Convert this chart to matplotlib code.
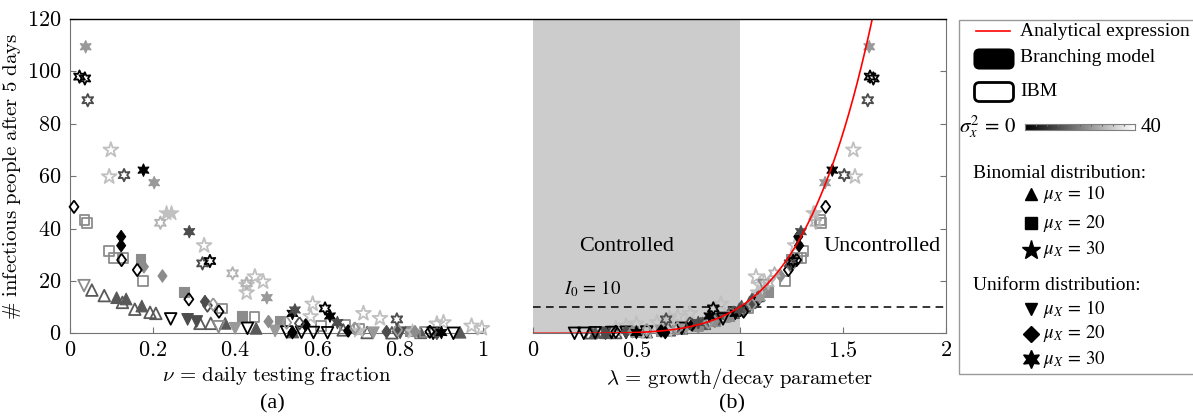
import numpy as np
import matplotlib
matplotlib.use('Agg')
import matplotlib.pyplot as plt
from matplotlib.patches import FancyBboxPatch, Rectangle

plt.rcParams['font.family'] = ['Liberation Serif', 'DejaVu Serif']
plt.rcParams['mathtext.fontset'] = 'cm'

I0 = 10
S2_MAX = 40

# columns: nu (panel a), lambda (panel b), infectious after 5 days, sigma_x^2, IBM flag (1 = hollow)
# binomial, mu_x = 10
tri_nu  = [0.053, 0.083, 0.113, 0.136, 0.127, 0.157, 0.174, 0.194, 0.208, 0.315, 0.341, 0.376, 0.451, 0.662, 0.945, 0.54, 0.72, 0.85, 0.78]
tri_lam = [1.12, 1.09, 1.07, 1.06, 1.05, 1.00, 1.01, 0.97, 0.95, 0.83, 0.82, 0.81, 0.72, 0.66, 0.30, 0.55, 0.40, 0.35, 0.28]
tri_y   = [16.5, 14.4, 13.6, 13.1, 11.8, 9.2, 10.4, 8.0, 7.6, 3.8, 3.8, 3.8, 1.9, 1.3, 0.4, 0.5, 0.3, 0.2, 0.2]
tri_s2  = [14] * 19
tri_ibm = [1, 1, 0, 0, 1, 1, 0, 1, 1, 1, 1, 0, 0, 1, 0, 0, 1, 0, 1]

# binomial, mu_x = 20
sq_nu  = [0.035, 0.042, 0.095, 0.107, 0.129, 0.171, 0.176, 0.277, 0.368, 0.416, 0.447, 0.509, 0.608, 0.666, 0.824, 0.70, 0.86]
sq_lam = [1.39, 1.395, 1.31, 1.30, 1.28, 1.25, 1.22, 1.14, 1.04, 0.95, 0.93, 0.88, 0.80, 0.79, 0.62, 0.70, 0.50]
sq_y   = [43.2, 42.0, 31.5, 28.9, 28.6, 28.5, 20.0, 15.8, 9.5, 6.6, 6.1, 4.8, 2.8, 3.2, 0.9, 1.5, 0.4]
sq_s2  = [22] * 17
sq_ibm = [1, 1, 1, 1, 1, 0, 1, 0, 1, 0, 1, 0, 1, 1, 0, 1, 1]

# binomial, mu_x = 30
pent_nu  = [0.099, 0.095, 0.234, 0.246, 0.325, 0.428, 0.428, 0.448, 0.468, 0.588, 0.583, 0.711, 0.751, 0.889, 0.905, 0.973, 0.998, 0.70, 0.83]
pent_lam = [1.552, 1.56, 1.358, 1.365, 1.27, 1.10, 1.09, 1.08, 1.12, 0.91, 0.70, 0.76, 0.66, 0.50, 0.60, 0.45, 0.40, 0.65, 0.55]
pent_y   = [70.0, 59.8, 45.8, 45.8, 33.5, 18.4, 15.5, 21.6, 19.7, 11.2, 6.4, 7.6, 5.7, 3.6, 4.1, 2.8, 1.9, 1.0, 0.6]
pent_s2  = [30] * 19
pent_ibm = [1, 1, 0, 0, 1, 1, 1, 1, 1, 1, 1, 1, 1, 1, 1, 1, 1, 0, 0]

# uniform, mu_x = 10
dtri_nu  = [0.034, 0.244, 0.285, 0.307, 0.36, 0.40, 0.43, 0.497, 0.525, 0.561, 0.59, 0.624, 0.735, 0.80, 0.929, 0.88]
dtri_lam = [1.12, 0.92, 0.90, 0.88, 0.80, 0.74, 0.72, 0.62, 0.55, 0.45, 0.38, 0.30, 0.45, 0.35, 0.20, 0.245]
dtri_y   = [18.2, 5.5, 5.3, 4.5, 2.5, 1.9, 1.9, 0.9, 0.5, 0.4, 0.3, 0.2, 0.2, 0.2, 0.0, 0.0]
dtri_s2  = [22, 0, 12, 12, 22, 24, 0, 24, 0, 0, 0, 0, 24, 12, 0, 0]
dtri_ibm = [1, 1, 0, 0, 1, 0, 1, 0, 1, 1, 1, 1, 0, 0, 1, 1]

# uniform, mu_x = 20
dia_nu  = [0.0097, 0.124, 0.124, 0.125, 0.163, 0.179, 0.224, 0.288, 0.327, 0.333, 0.347, 0.361, 0.481, 0.525, 0.539,
           0.556, 0.571, 0.674, 0.69, 0.767, 0.792, 0.794, 0.836, 0.872, 0.889]
dia_lam = [1.418, 1.285, 1.289, 1.277, 1.237, 1.25, 1.20, 1.091, 1.06, 1.05, 1.06, 1.02, 0.88, 0.85, 0.64,
           0.76, 0.77, 0.62, 0.70, 0.45, 0.50, 0.55, 0.48, 0.40, 0.35]
dia_y   = [48.3, 36.9, 33.5, 28.0, 24.2, 25.4, 21.9, 13.0, 12.1, 10.6, 11.0, 8.3, 4.5, 4.1, 0.3,
           3.8, 3.2, 0.9, 1.9, 0.6, 0.6, 1.3, 0.6, 0.6, 0.0]
dia_s2  = [0, 0, 0, 0, 0, 22, 22, 0, 12, 12, 24, 0, 22, 24, 0, 12, 0, 0, 24, 12, 12, 24, 22, 0, 12]
dia_ibm = [1, 0, 0, 1, 1, 0, 0, 1, 0, 1, 1, 1, 0, 1, 0, 1, 0, 0, 1, 0, 0, 1, 0, 1, 0]

# uniform, mu_x = 30
hex_nu  = [0.038, 0.023, 0.036, 0.043, 0.131, 0.178, 0.204, 0.219, 0.289, 0.321, 0.339, 0.394, 0.428, 0.477,
           0.539, 0.545, 0.618, 0.630, 0.648, 0.792, 0.90]
hex_lam = [1.629, 1.633, 1.649, 1.622, 1.508, 1.450, 1.415, 1.37, 1.298, 1.245, 1.26, 1.17, 1.14, 1.10,
           0.98, 1.00, 0.873, 0.854, 0.80, 0.644, 0.50]
hex_y   = [109.4, 98.0, 97.3, 89.0, 60.4, 62.3, 57.5, 42.2, 38.8, 26.7, 27.6, 22.9, 19.1, 13.6,
           7.6, 8.9, 9.5, 6.6, 4.1, 5.3, 0.3]
hex_s2  = [24, 0, 0, 12, 12, 0, 24, 28, 12, 12, 0, 28, 28, 24, 0, 12, 0, 0, 12, 12, 0]
hex_ibm = [0, 1, 1, 1, 1, 0, 0, 1, 0, 1, 1, 1, 1, 0, 0, 0, 1, 0, 0, 1, 0]

diamond = [(0, 1), (0.72, 0), (0, -1), (-0.72, 0), (0, 1)]
groups = [
    (tri_nu, tri_lam, tri_y, tri_s2, tri_ibm, '^', 70),
    (sq_nu, sq_lam, sq_y, sq_s2, sq_ibm, 's', 50),
    (pent_nu, pent_lam, pent_y, pent_s2, pent_ibm, '*', 125),
    (dtri_nu, dtri_lam, dtri_y, dtri_s2, dtri_ibm, 'v', 70),
    (dia_nu, dia_lam, dia_y, dia_s2, dia_ibm, diamond, 80),
    (hex_nu, hex_lam, hex_y, hex_s2, hex_ibm, (6, 1, 0), 80),
]

W, H = 1193, 420
fig = plt.figure(figsize=(W / 100, H / 100), dpi=100)
axa = fig.add_axes([70 / W, 1 - 333.3 / H, 412.7 / W, 314.3 / H])
axb = fig.add_axes([533.3 / W, 1 - 333.3 / H, 412.4 / W, 314.3 / H])
cmap = plt.get_cmap('gray')

def draw(ax, xs, ys, s2, ibm, marker, size):
    xs, ys = np.asarray(xs), np.asarray(ys)
    cols = cmap(np.asarray(s2) / S2_MAX)
    ibm = np.asarray(ibm, bool)
    ax.scatter(xs[~ibm], ys[~ibm], s=size, marker=marker, facecolors=cols[~ibm],
               edgecolors=cols[~ibm], linewidths=0.8, zorder=3, clip_on=False)
    ax.scatter(xs[ibm], ys[ibm], s=size, marker=marker, facecolors='none',
               edgecolors=cols[ibm], linewidths=1.3, zorder=3, clip_on=False)

for nu, lam, y, s2, ibm, mk, sz in groups:
    draw(axa, nu, y, s2, ibm, mk, sz)
    draw(axb, lam, y, s2, ibm, mk, sz)

ticks_y = [0, 20, 40, 60, 80, 100, 120]
axa.set_xlim(0, 1)
axa.set_ylim(0, 120)
axa.set_xticks([0, 0.2, 0.4, 0.6, 0.8, 1])
axa.set_xticklabels([f'${t:g}$' for t in [0, 0.2, 0.4, 0.6, 0.8, 1]])
axa.set_yticks(ticks_y)
axa.set_yticklabels([f'${t}$' for t in ticks_y])
axa.set_xlabel(r'$\nu\,=\,\mathrm{daily\ testing\ fraction}$', fontsize=15, labelpad=3)
axa.set_ylabel(r'$\#\ \mathrm{infectious\ people\ after\ 5\ days}$', fontsize=15, labelpad=3)
for s in ['top', 'right']:
    axa.spines[s].set_visible(False)

lam = np.linspace(0, 2, 500)
axb.axvspan(0, 1, color='0.8', lw=0, zorder=0)
axb.plot(lam, I0 * lam ** 5, color='red', lw=1.2, zorder=4)
axb.axhline(I0, color='k', ls=(0, (5, 3.5)), lw=1.1, zorder=2)
axb.set_xlim(0, 2)
axb.set_ylim(0, 120)
axb.set_xticks([0, 0.5, 1, 1.5, 2])
axb.set_xticklabels([f'${t:g}$' for t in [0, 0.5, 1, 1.5, 2]])
axb.set_yticks(ticks_y)
axb.yaxis.tick_right()
axb.tick_params(axis='y', labelright=False)
axb.set_xlabel(r'$\lambda\,=\,\mathrm{growth/decay\ parameter}$', fontsize=15, labelpad=3)
for s in ['top', 'left']:
    axb.spines[s].set_visible(False)
axb.text(0.45, 33, 'Controlled', fontsize=16, ha='center', va='center')
axb.text(1.69, 33, 'Uncontrolled', fontsize=16, ha='center', va='center')
axb.text(0.15, 17, r'$I_0\,=\,10$', fontsize=13.5, ha='left', va='center', math_fontfamily='stix')

for ax in (axa, axb):
    ax.tick_params(direction='in', length=4, color='0.45', labelsize=16, pad=6)
    for s in ax.spines.values():
        s.set_color('0.45')
    ax.set_facecolor('none')

# overlay in pixel coordinates for frame line, labels and legend
ov = fig.add_axes([0, 0, 1, 1], zorder=10)
ov.set_xlim(0, W)
ov.set_ylim(H, 0)
ov.axis('off')
ov.plot([70, 946], [19, 19], color='k', lw=1.0)
ov.text(272, 404, '(a)', fontsize=16, ha='center', va='center')
ov.text(732, 404, '(b)', fontsize=16, ha='center', va='center')

LFS = 14
ov.add_patch(Rectangle((959, 20), 240, 354, fc='white', ec='0.6', lw=1))
ov.plot([976, 1010], [31, 31], color='red', lw=1.2)
ov.text(1020, 31, 'Analytical expression', fontsize=LFS, va='center')
ov.add_patch(FancyBboxPatch((977, 52), 34, 14, boxstyle='round,pad=2.5,rounding_size=5',
                            fc='k', ec='k', lw=1.5))
ov.text(1020, 58, 'Branching model', fontsize=LFS, va='center')
ov.add_patch(FancyBboxPatch((977, 85), 34, 14, boxstyle='round,pad=2.5,rounding_size=5',
                            fc='white', ec='k', lw=2))
ov.text(1020, 92, 'IBM', fontsize=LFS, va='center')
ov.text(1016, 127, r'$\sigma_x^2\,=\,0$', fontsize=15, ha='right', va='center', math_fontfamily='stix')
ov.text(1141, 127, '40', fontsize=15, ha='left', va='center')

cax = fig.add_axes([1025 / W, 1 - 130 / H, 110 / W, 6 / H], zorder=11)
cax.imshow(np.linspace(0, 1, 256)[None, :], cmap='gray', aspect='auto', extent=[0, S2_MAX, 0, 1])
cax.set_yticks([])
cax.set_xticks(np.arange(0, 41, 4))
cax.tick_params(axis='x', top=True, bottom=False, labelbottom=False, direction='in', length=1.5, color='0.4')
for s in cax.spines.values():
    s.set_color('0.5')
    s.set_linewidth(0.8)

leg_rows = [
    ('Binomial distribution:', None, 174),
    (r'$\mu_X\,=\,10$', '^', 194),
    (r'$\mu_X\,=\,20$', 's', 223),
    (r'$\mu_X\,=\,30$', '*', 250),
    ('Uniform distribution:', None, 286),
    (r'$\mu_X\,=\,10$', 'v', 309),
    (r'$\mu_X\,=\,20$', 'D', 334),
    (r'$\mu_X\,=\,30$', (6, 1, 0), 359),
]
msizes = {'^': 9, 's': 8, '*': 14, 'v': 9, 'D': 8}
for label, mk, yy in leg_rows:
    if mk is None:
        ov.text(973, yy, label, fontsize=LFS, va='center')
    else:
        ov.plot([1031], [yy], marker=mk, color='k', ms=msizes.get(mk, 13), ls='none')
        ov.text(1043, yy, label, fontsize=13.5, va='center', math_fontfamily='stix')

fig.savefig('out.png', dpi=100)
